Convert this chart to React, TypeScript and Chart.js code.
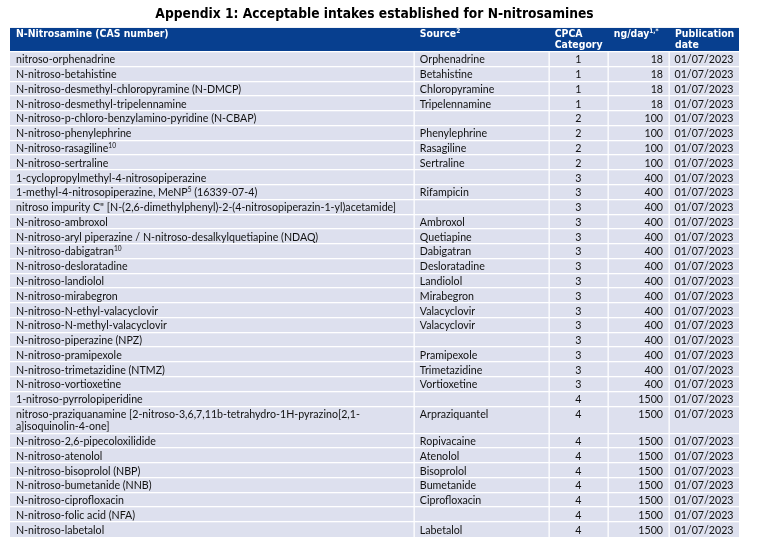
import React, { useEffect, useRef } from 'react';
import { Chart, registerables } from 'chart.js';

Chart.register(...registerables);

const title = 'Appendix 1: Acceptable intakes established for N-nitrosamines';
const headers = ['N-Nitrosamine (CAS number)', 'Source^2', 'CPCA\nCategory', 'ng/day^1,*', 'Publication\ndate'];

const nitrosamines = [
  'nitroso-orphenadrine',
  'N-nitroso-betahistine',
  'N-nitroso-desmethyl-chloropyramine (N-DMCP)',
  'N-nitroso-desmethyl-tripelennamine',
  'N-nitroso-p-chloro-benzylamino-pyridine (N-CBAP)',
  'N-nitroso-phenylephrine',
  'N-nitroso-rasagiline^10',
  'N-nitroso-sertraline',
  '1-cyclopropylmethyl-4-nitrosopiperazine',
  '1-methyl-4-nitrosopiperazine, MeNP^5 (16339-07-4)',
  'nitroso impurity C" [N-(2,6-dimethylphenyl)-2-(4-nitrosopiperazin-1-yl)acetamide]',
  'N-nitroso-ambroxol',
  'N-nitroso-aryl piperazine / N-nitroso-desalkylquetiapine (NDAQ)',
  'N-nitroso-dabigatran^10',
  'N-nitroso-desloratadine',
  'N-nitroso-landiolol',
  'N-nitroso-mirabegron',
  'N-nitroso-N-ethyl-valacyclovir',
  'N-nitroso-N-methyl-valacyclovir',
  'N-nitroso-piperazine (NPZ)',
  'N-nitroso-pramipexole',
  'N-nitroso-trimetazidine (NTMZ)',
  'N-nitroso-vortioxetine',
  '1-nitroso-pyrrolopiperidine',
  'nitroso-praziquanamine [2-nitroso-3,6,7,11b-tetrahydro-1H-pyrazino[2,1-\na]isoquinolin-4-one]',
  'N-nitroso-2,6-pipecoloxilidide',
  'N-nitroso-atenolol',
  'N-nitroso-bisoprolol (NBP)',
  'N-nitroso-bumetanide (NNB)',
  'N-nitroso-ciprofloxacin',
  'N-nitroso-folic acid (NFA)',
  'N-nitroso-labetalol',
];

const sources = [
  'Orphenadrine', 'Betahistine', 'Chloropyramine', 'Tripelennamine', '', 'Phenylephrine', 'Rasagiline', 'Sertraline',
  '', 'Rifampicin', '', 'Ambroxol', 'Quetiapine', 'Dabigatran', 'Desloratadine', 'Landiolol',
  'Mirabegron', 'Valacyclovir', 'Valacyclovir', '', 'Pramipexole', 'Trimetazidine', 'Vortioxetine', '',
  'Arpraziquantel', 'Ropivacaine', 'Atenolol', 'Bisoprolol', 'Bumetanide', 'Ciprofloxacin', '', 'Labetalol',
];

const categories = [1, 1, 1, 1, 2, 2, 2, 2, 3, 3, 3, 3, 3, 3, 3, 3, 3, 3, 3, 3, 3, 3, 3, 4, 4, 4, 4, 4, 4, 4, 4, 4];

const intakes = [18, 18, 18, 18, 100, 100, 100, 100, 400, 400, 400, 400, 400, 400, 400, 400, 400, 400, 400, 400, 400, 400, 400, 1500, 1500, 1500, 1500, 1500, 1500, 1500, 1500, 1500];

const dates = [
  '01/07/2023', '01/07/2023', '01/07/2023', '01/07/2023', '01/07/2023', '01/07/2023', '01/07/2023', '01/07/2023',
  '01/07/2023', '01/07/2023', '01/07/2023', '01/07/2023', '01/07/2023', '01/07/2023', '01/07/2023', '01/07/2023',
  '01/07/2023', '01/07/2023', '01/07/2023', '01/07/2023', '01/07/2023', '01/07/2023', '01/07/2023', '01/07/2023',
  '01/07/2023', '01/07/2023', '01/07/2023', '01/07/2023', '01/07/2023', '01/07/2023', '01/07/2023', '01/07/2023',
];

// layout (styles, not data)
const COL_EDGES = [0, 0.554, 0.739, 0.82, 0.904, 1];
const HEADER_UNITS = 1.63;
const EXTRA_LINE_UNITS = 0.83;
const HEADER_BG = '#073f8f';
const ROW_BG = '#dde0ee';
const TITLE_FONT = 'DejaVu Sans Condensed';
const HEAD_FONT = 'DejaVu Sans Condensed';
const BODY_FONT = 'Lato';
const BODY_SIZE = 10.65;
const HEAD_SIZE = 10.4;

const rowUnits = nitrosamines.map((n) => 1 + (n.split('\n').length - 1) * EXTRA_LINE_UNITS);
const totalUnits = HEADER_UNITS + rowUnits.reduce((a, b) => a + b, 0);

function drawRich(ctx: CanvasRenderingContext2D, text: string, x: number, y: number, align: 'left' | 'right' | 'center', size: number, family: string, weight: string) {
  const parts = text.split(/(\^\S+)/).filter((p) => p.length);
  const segs = parts.map((p) => {
    const sup = p.startsWith('^');
    const t = sup ? p.slice(1) : p;
    const s = sup ? size * 0.62 : size;
    ctx.font = `${weight} ${s}px "${family}"`;
    return { t, sup, s, w: ctx.measureText(t).width };
  });
  const total = segs.reduce((a, b) => a + b.w, 0);
  let cx = align === 'left' ? x : align === 'right' ? x - total : x - total / 2;
  ctx.textAlign = 'left';
  ctx.textBaseline = 'alphabetic';
  for (const sg of segs) {
    ctx.font = `${weight} ${sg.s}px "${family}"`;
    ctx.fillText(sg.t, cx, sg.sup ? y - size * 0.38 : y);
    cx += sg.w;
  }
}

const tablePlugin = {
  id: 'tableCells',
  beforeDatasetsDraw(chart: any) {
    const { ctx, scales } = chart;
    const xs = scales.x;
    const ys = scales.y;
    const px = (f: number) => xs.getPixelForValue(f);
    const py = (u: number) => ys.getPixelForValue(u);
    const left = px(0);
    const right = px(1);
    ctx.save();
    // header
    ctx.fillStyle = HEADER_BG;
    ctx.fillRect(left, py(0), right - left, py(HEADER_UNITS) - py(0));
    // body background
    ctx.fillStyle = ROW_BG;
    ctx.fillRect(left, py(HEADER_UNITS), right - left, py(totalUnits) - py(HEADER_UNITS));
    // header text
    ctx.fillStyle = '#ffffff';
    headers.forEach((h, c) => {
      const lines = h.split('\n');
      lines.forEach((ln, k) => {
        drawRich(ctx, ln, px(COL_EDGES[c]) + 6, py(0) + 9.5 + k * 11, 'left', HEAD_SIZE, HEAD_FONT, 'bold');
      });
    });
    // rows
    let u = HEADER_UNITS;
    nitrosamines.forEach((name, i) => {
      const top = u;
      const h = rowUnits[i];
      ctx.fillStyle = '#ffffff';
      ctx.fillRect(left, Math.round(py(top)) - 1, right - left, 1.3);
      const base = py(top + 0.5) + 4;
      ctx.fillStyle = '#111111';
      name.split('\n').forEach((ln, k) => {
        drawRich(ctx, ln, px(COL_EDGES[0]) + 6, base + k * (py(EXTRA_LINE_UNITS) - py(0)), 'left', BODY_SIZE, BODY_FONT, 'normal');
      });
      if (sources[i]) drawRich(ctx, sources[i], px(COL_EDGES[1]) + 6, base, 'left', BODY_SIZE, BODY_FONT, 'normal');
      drawRich(ctx, String(categories[i]), (px(COL_EDGES[2]) + px(COL_EDGES[3])) / 2, base, 'center', BODY_SIZE, BODY_FONT, 'normal');
      drawRich(ctx, String(intakes[i]), px(COL_EDGES[4]) - 6, base, 'right', BODY_SIZE, BODY_FONT, 'normal');
      drawRich(ctx, dates[i], (px(COL_EDGES[4]) + px(COL_EDGES[5])) / 2, base, 'center', BODY_SIZE, BODY_FONT, 'normal');
      u += h;
    });
    // vertical separators in body
    ctx.fillStyle = '#ffffff';
    for (let c = 1; c < COL_EDGES.length - 1; c++) {
      ctx.fillRect(Math.round(px(COL_EDGES[c])) - 0.5, py(HEADER_UNITS), 1.3, py(totalUnits) - py(HEADER_UNITS));
    }
    ctx.restore();
  },
};

export default function App() {
  const ref = useRef<HTMLCanvasElement>(null);
  useEffect(() => {
    if (!ref.current) return;
    const chart = new Chart(ref.current, {
      type: 'scatter',
      data: { datasets: [{ data: [], pointRadius: 0 }] },
      options: {
        responsive: false,
        animation: false,
        devicePixelRatio: 1,
        layout: { padding: { left: 10, right: 36, top: 0, bottom: 13 } },
        plugins: {
          legend: { display: false },
          tooltip: { enabled: false },
          title: {
            display: true,
            text: title,
            color: '#000000',
            font: { family: TITLE_FONT, size: 13.7, weight: 'bold' },
            padding: { top: 6, bottom: 5.5 },
          },
        },
        scales: {
          x: { type: 'linear', min: 0, max: 1, display: false },
          y: { type: 'linear', min: 0, max: totalUnits, reverse: true, display: false },
        },
      },
      plugins: [tablePlugin],
    });
    return () => chart.destroy();
  }, []);
  return (
    <div style={{ position: 'absolute', left: 0, top: 0, width: 775, height: 550, background: '#fff' }}>
      <canvas ref={ref} width={775} height={550} />
    </div>
  );
}
